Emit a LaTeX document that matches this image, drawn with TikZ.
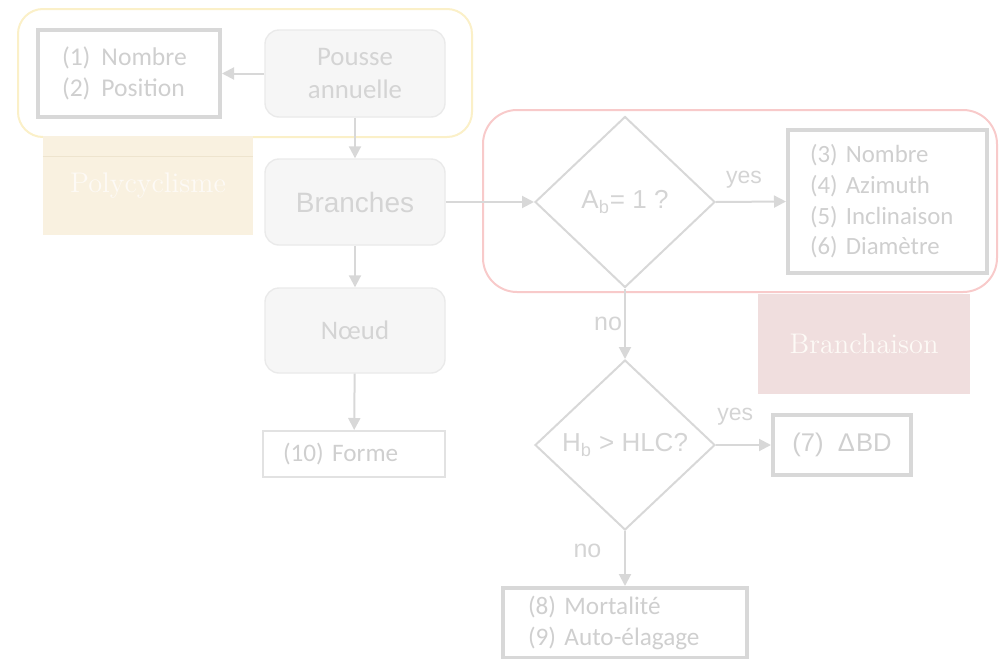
\documentclass[tikz,border=0pt]{standalone}
\usepackage{fontspec}
\usepackage{tikz}
\usetikzlibrary{shapes.geometric,arrows.meta}
\setsansfont{Carlito}
\newfontfamily\helv{Liberation Sans}

\definecolor{linegray}{HTML}{D8D8D8}
\definecolor{thingray}{HTML}{E2E2E2}
\definecolor{txtgray}{HTML}{CFCFCF}
\definecolor{paletxt}{HTML}{D4D4D4}
\definecolor{softfill}{HTML}{F6F6F6}
\definecolor{softdraw}{HTML}{EAEAEA}
\definecolor{yellowline}{HTML}{FBF0C8}
\definecolor{redline}{HTML}{F8CACA}
\definecolor{polyfill}{HTML}{F9F1E0}
\definecolor{polyline}{HTML}{EEE4CE}
\definecolor{branfill}{HTML}{F0DEDE}
\definecolor{labeltxt}{HTML}{FDFAF6}

\begin{document}
\begin{tikzpicture}[x=0.5pt, y=-0.5pt,
    stepnode/.style={draw=softdraw, fill=softfill, rounded corners=7pt, line width=0.7pt,
        minimum width=90pt, align=center, text=paletxt},
    databox/.style={draw=linegray, line width=2pt, align=left, text=txtgray, inner ysep=0pt,
        font=\sffamily\fontsize{12.6}{15.5}\selectfont},
    decide/.style={diamond, draw=linegray, line width=1pt, inner sep=0pt,
        minimum width=90pt},
    dtext/.style={text=paletxt, font=\helv\fontsize{13}{15}\selectfont},
    tagbox/.style={minimum width=105pt, minimum height=49.5pt, text=labeltxt,
        font=\rmfamily\fontsize{14.2}{16}\selectfont},
    arrow/.style={draw=linegray, line width=1pt, -{Triangle[length=6pt,width=6pt]}},
    answer/.style={text=paletxt, font=\helv\fontsize{11.5}{13}\selectfont}]
    \useasboundingbox (0,0) rectangle (1002,659);

    % groups
    \draw[yellowline, line width=1pt, rounded corners=12.5pt] (18,9) rectangle (472,137);
    \draw[redline, line width=1pt, rounded corners=17pt] (483,110) rectangle (997,292);

    % left column
    \node[databox, font=\sffamily\fontsize{12.8}{15.5}\selectfont, minimum height=43.5pt, text width=67pt, inner xsep=12pt] (count) at (129,73.5)
        {(1)\hspace{5.5pt}Nombre\\(2)\hspace{5.5pt}Position};
    \node[stepnode, minimum height=43.5pt, font=\sffamily\fontsize{13.4}{16.5}\selectfont] (shoot) at (355,73.5)
        {Pousse\\annuelle};
    \node[stepnode, minimum height=43pt, font=\helv\fontsize{14}{16}\selectfont] (branch) at (355,202) {Branches};
    \node[stepnode, minimum height=42.5pt, font=\sffamily\fontsize{13.4}{16}\selectfont] (knot) at (355,330.5) {N\oe ud};
    \node[databox, draw=thingray, line width=1pt, minimum height=23pt, text width=71pt, inner xsep=10pt] (shape) at (354,454)
        {(10) Forme};

    \node[tagbox, fill=polyfill] (poly) at (148,185.5) {Polycyclisme};
    \draw[polyline, line width=0.6pt] ([yshift=-10.5pt]poly.north west) -- ([yshift=-10.5pt]poly.north east);

    % right part
    \node[decide, minimum height=85.5pt, label={[dtext]center:A\textsubscript{b}= 1 ?}] (dA) at (625,202) {};
    \node[databox, font=\sffamily\fontsize{12.4}{15.3}\selectfont, minimum height=71.5pt, text width=77.5pt, inner xsep=11pt] (traits) at (887.5,201.5)
        {(3) Nombre\\(4) Azimuth\\(5) Inclinaison\\(6) Diam\`etre};
    \node[tagbox, fill=branfill, minimum width=106pt, minimum height=50pt] (bran) at (864,344) {Branchaison};

    \node[decide, minimum height=85pt, label={[dtext]center:H\textsubscript{b} > HLC?}] (dB) at (625,445) {};
    \node[databox, font=\helv\fontsize{12.8}{15}\selectfont, align=center, minimum width=69pt, minimum height=30pt] (delta) at (842,445)
        {(7)~~Δ\kern0.5ptBD};
    \node[databox, minimum height=35pt, text width=97pt, inner xsep=12.5pt] (death) at (625,623)
        {(8) Mortalit\'e\\(9) Auto-\'elagage};

    % connectors
    \draw[arrow] (shoot) -- (count);
    \draw[arrow] (shoot) -- (branch);
    \draw[arrow] (branch) -- (knot);
    \draw[arrow] (knot) -- (shape);
    \draw[arrow] (branch) -- (dA);
    \draw[arrow] (dA.east) -- node[answer, above, yshift=3pt, pos=0.4] {yes} (traits.west);
    \draw[arrow] (dA.south) -- node[answer, left, inner sep=1pt, font=\helv\fontsize{12.5}{14}\selectfont] {no} (dB.north);
    \draw[arrow] (dB.east) -- node[answer, above, yshift=6pt, pos=0.35] {yes} (delta.west);
    \draw[arrow] (dB.south) -- node[answer, left, xshift=-8pt, yshift=4pt, font=\helv\fontsize{12.5}{14}\selectfont] {no} (death.north);
\end{tikzpicture}
\end{document}
